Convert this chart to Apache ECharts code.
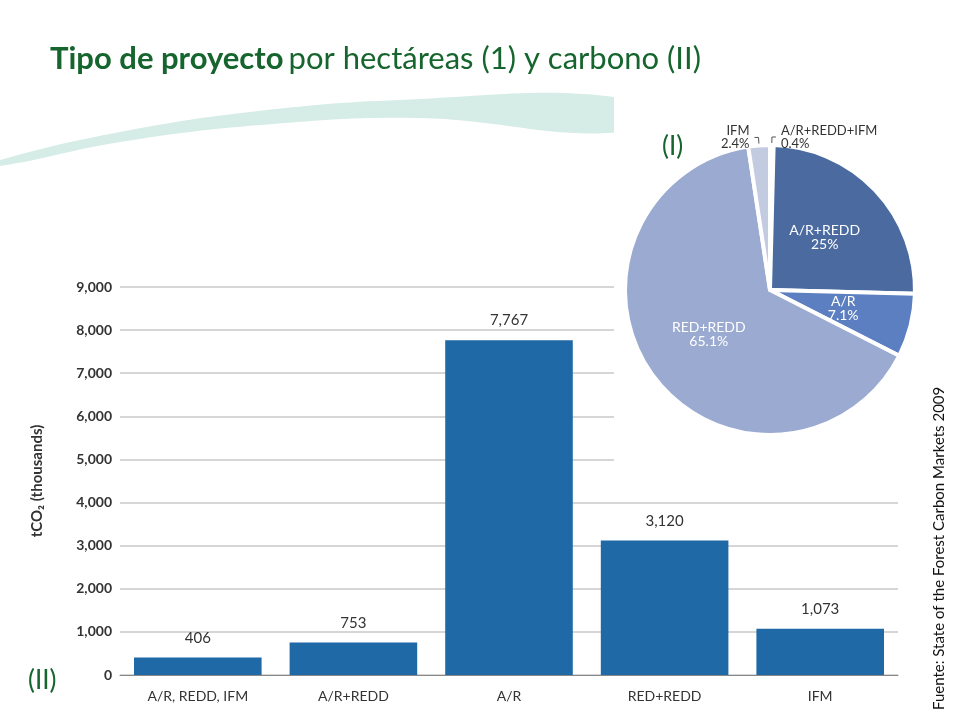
<!DOCTYPE html>
<html><head><meta charset="utf-8">
<script src="https://cdn.jsdelivr.net/npm/echarts@6/dist/echarts.min.js"></script>
<style>html,body{margin:0;padding:0;background:#fff}#c{width:960px;height:720px}</style>
</head><body><div id="c"></div>
<script>
const categories = ['A/R, REDD, IFM', 'A/R+REDD', 'A/R', 'RED+REDD', 'IFM'];
const values = [406, 753, 7767, 3120, 1073];
const yTicks = [0, 1000, 2000, 3000, 4000, 5000, 6000, 7000, 8000, 9000];
const pieNames = ['A/R+REDD+IFM', 'A/R+REDD', 'A/R', 'RED+REDD', 'IFM'];
const pieValues = [0.4, 25, 7.1, 65.1, 2.4];
const pieColors = ['#2d4f86', '#4a6aa0', '#5b7fc0', '#9aaad0', '#c3cbe0'];

const chart = echarts.init(document.getElementById('c'));
const f = 'Lato, "Open Sans", sans-serif';
const pieData = pieNames.map((n, i) => {
  const d = { name: n, value: pieValues[i], itemStyle: { color: pieColors[i] } };
  if (i === 0 || i === 4) {
    d.label = { position: 'outside', color: '#333', fontSize: 13 };
    d.labelLine = { show: true, length: 8, length2: 4, lineStyle: { color: '#555' } };
  }
  return d;
});
chart.setOption({
  animation: false,
  title: {
    text: '{b|Tipo de proyecto} {n|por hectáreas (1) y carbono (II)}',
    left: 45, top: 38,
    textStyle: { rich: {
      b: { fontSize: 31, fontWeight: 'bold', color: '#16652e', fontFamily: f },
      n: { fontSize: 31, fontWeight: 'normal', color: '#16652e', fontFamily: f }
    }}
  },
  grid: { left: 120, right: 62, top: 287, bottom: 45 },
  xAxis: {
    type: 'category', data: categories,
    axisLine: { lineStyle: { color: '#888' } }, axisTick: { show: false },
    axisLabel: { color: '#333', fontSize: 14, fontFamily: f, margin: 14 }
  },
  yAxis: {
    type: 'value', min: yTicks[0], max: yTicks[yTicks.length - 1], interval: 1000,
    name: 'tCO₂ (thousands)', nameLocation: 'middle', nameGap: 75, nameRotate: 90,
    nameTextStyle: { fontWeight: 'bold', fontSize: 15, color: '#333', fontFamily: f },
    axisLine: { show: false }, axisTick: { show: false },
    axisLabel: { color: '#333', fontSize: 14, fontWeight: 'bold', fontFamily: f,
      formatter: v => v.toLocaleString('en-US') },
    splitLine: { lineStyle: { color: '#c8c8c8', width: 1.5 } }
  },
  graphic: [
    { type: 'polygon', shape: { points: [[0,160],[120,132],[250,112],[400,100],[620,98],[620,132],[420,118],[260,125],[120,142],[0,166]], smooth: 0.4 },
      style: { fill: '#d6ece6' }, z: 0 },
    { type: 'rect', shape: { x: 614, y: 95, width: 300, height: 368 }, style: { fill: '#fff' }, z: 10 },
    { type: 'text', left: 662, top: 134, style: { text: '(I)', fontSize: 26, fill: '#16652e', fontFamily: f }, z: 30 },
    { type: 'text', left: 28, top: 668, style: { text: '(II)', fontSize: 26, fill: '#16652e', fontFamily: f }, z: 30 },
    { type: 'text', x: 932, y: 710, rotation: Math.PI / 2,
      style: { text: 'Fuente: State of the Forest Carbon Markets 2009', fontSize: 15, fill: '#111', fontFamily: f }, z: 30 }
  ],
  series: [
    {
      type: 'bar', data: values, barWidth: '82%',
      itemStyle: { color: '#1f69a6' },
      label: { show: true, position: 'top', distance: 12, color: '#333', fontSize: 15, fontFamily: f,
        formatter: p => p.value.toLocaleString('en-US') }
    },
    {
      type: 'pie', z: 20, center: [770, 290], radius: [0, 145], startAngle: 90, clockwise: true,
      data: pieData,
      itemStyle: { borderColor: '#fff', borderWidth: 4 },
      label: { position: 'inside', color: '#fff', fontSize: 14, fontFamily: f,
        formatter: p => p.name + '\n' + p.value + '%' },
      labelLine: { show: false }
    }
  ]
});
</script></body></html>
